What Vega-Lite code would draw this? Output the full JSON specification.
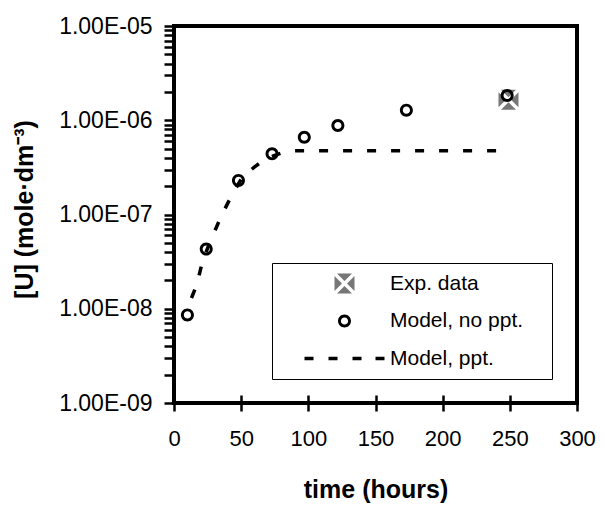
{
  "$schema": "https://vega.github.io/schema/vega-lite/v6.json",
  "autosize": "none",
  "padding": {"left": 174, "top": 26, "right": 26, "bottom": 102},
  "width": 403,
  "height": 377,
  "background": "white",
  "config": {
    "font": "Liberation Sans",
    "view": {"stroke": "black", "strokeWidth": 4},
    "axis": {"ticks": true, "tickColor": "#000000", "tickWidth": 2.5, "tickOpacity": 1, "domain": false, "grid": false}
  },
  "data": {
    "values": [
      {"t": 249, "u": 1.65e-6, "series": "Exp. data"},
      {"t": 10, "u": 8.6e-9, "series": "Model, no ppt."},
      {"t": 24, "u": 4.3e-8, "series": "Model, no ppt."},
      {"t": 48, "u": 2.3e-7, "series": "Model, no ppt."},
      {"t": 73, "u": 4.4e-7, "series": "Model, no ppt."},
      {"t": 97, "u": 6.6e-7, "series": "Model, no ppt."},
      {"t": 122, "u": 8.8e-7, "series": "Model, no ppt."},
      {"t": 173, "u": 1.28e-6, "series": "Model, no ppt."},
      {"t": 248, "u": 1.83e-6, "series": "Model, no ppt."},
      {"t": 13, "u": 1.3e-8, "series": "Model, ppt."},
      {"t": 17, "u": 1.8e-8, "series": "Model, ppt."},
      {"t": 21, "u": 3.1e-8, "series": "Model, ppt."},
      {"t": 27, "u": 5.2e-8, "series": "Model, ppt."},
      {"t": 35, "u": 9.5e-8, "series": "Model, ppt."},
      {"t": 43, "u": 1.6e-7, "series": "Model, ppt."},
      {"t": 51, "u": 2.5e-7, "series": "Model, ppt."},
      {"t": 60, "u": 3.2e-7, "series": "Model, ppt."},
      {"t": 66, "u": 3.7e-7, "series": "Model, ppt."},
      {"t": 74, "u": 4.2e-7, "series": "Model, ppt."},
      {"t": 82, "u": 4.6e-7, "series": "Model, ppt."},
      {"t": 90, "u": 4.75e-7, "series": "Model, ppt."},
      {"t": 248, "u": 4.75e-7, "series": "Model, ppt."}
    ]
  },
  "encoding": {
    "x": {
      "field": "t", "type": "quantitative",
      "scale": {"domain": [0, 300], "nice": false, "zero": false},
      "axis": {
        "orient": "bottom",
        "values": [0, 50, 100, 150, 200, 250, 300],
        "title": "time (hours)",
        "titleFontSize": 25, "titleFontWeight": "bold", "titleColor": "black",
        "titleY": 102, "titleBaseline": "alphabetic",
        "labelFontSize": 22, "labelColor": "black", "labelFlush": false, "labelOverlap": false,
        "offset": -8, "tickSize": 16, "labelPadding": 17
      }
    },
    "y": {
      "field": "u", "type": "quantitative",
      "scale": {"type": "log", "domain": [1e-9, 1e-5], "nice": false},
      "axis": {
        "orient": "left",
        "values": [1e-9, 2e-9, 3e-9, 4e-9, 5e-9, 6e-9, 7e-9, 8e-9, 9e-9,
                   1e-8, 2e-8, 3e-8, 4e-8, 5e-8, 6e-8, 7e-8, 8e-8, 9e-8,
                   1e-7, 2e-7, 3e-7, 4e-7, 5e-7, 6e-7, 7e-7, 8e-7, 9e-7,
                   1e-6, 2e-6, 3e-6, 4e-6, 5e-6, 6e-6, 7e-6, 8e-6, 9e-6, 1e-5],
        "labelExpr": "abs(log(datum.value)/LN10 - round(log(datum.value)/LN10)) < 0.001 ? '1.00E-0' + (-round(log(datum.value)/LN10)) : ''",
        "title": "[U] (mole·dm⁻³)",
        "titleFontSize": 25, "titleFontWeight": "bold", "titleColor": "black",
        "titleX": -142, "titleY": 183, "titleBaseline": "alphabetic", "titleAlign": "center", "titleAngle": -90,
        "labelFontSize": 23, "labelColor": "black", "labelOverlap": false, "labelFlush": false,
        "tickSize": 10, "labelPadding": 12
      }
    }
  },
  "layer": [
    {
      "transform": [{"filter": "datum.series === 'Model, ppt.'"}],
      "mark": {"type": "line", "color": "black", "strokeWidth": 3.5, "strokeDash": [9, 15], "strokeCap": "butt"}
    },
    {
      "transform": [{"filter": "datum.series !== 'Model, ppt.'"}],
      "mark": {"type": "point", "filled": true, "strokeWidth": 0, "size": 400, "opacity": 1},
      "encoding": {
        "color": {
          "field": "series", "type": "nominal",
          "scale": {"domain": ["Exp. data", "Model, no ppt.", "Model, ppt."], "range": ["#777777", "black", "black"]},
          "legend": {
            "orient": "none", "legendX": 98, "legendY": 237,
            "title": null,
            "strokeColor": "black", "padding": 10,
            "symbolSize": 400, "symbolStrokeWidth": 0,
            "symbolOffset": 52, "labelOffset": 35,
            "labelFont": "Liberation Sans", "labelFontSize": 21, "labelColor": "black", "labelLimit": 400,
            "rowPadding": 15.5
          }
        },
        "shape": {
          "field": "series", "type": "nominal",
          "scale": {
            "domain": ["Exp. data", "Model, no ppt.", "Model, ppt."],
            "range": [
              "M-0.75,-1L0.75,-1L0,-0.25Z M1,-0.75L1,0.75L0.25,0Z M0.75,1L-0.75,1L0,0.25Z M-1,0.75L-1,-0.75L-0.25,0Z",
              "M0.65,0A0.65,0.65 0 1,1 -0.65,0A0.65,0.65 0 1,1 0.65,0Z M0.36,0A0.36,0.36 0 1,0 -0.36,0A0.36,0.36 0 1,0 0.36,0Z",
              "M-4,-0.18H-3.1V0.18H-4Z M-1.6,-0.18H-0.7V0.18H-1.6Z M0.8,-0.18H1.7V0.18H0.8Z M3.1,-0.18H4V0.18H3.1Z M19.7,0Z"
            ]
          },
          "legend": {
            "orient": "none", "legendX": 98, "legendY": 237,
            "title": null,
            "strokeColor": "black", "padding": 10,
            "symbolSize": 400, "symbolStrokeWidth": 0,
            "symbolOffset": 52, "labelOffset": 35,
            "labelFont": "Liberation Sans", "labelFontSize": 21, "labelColor": "black", "labelLimit": 400,
            "rowPadding": 15.5
          }
        }
      }
    }
  ]
}
